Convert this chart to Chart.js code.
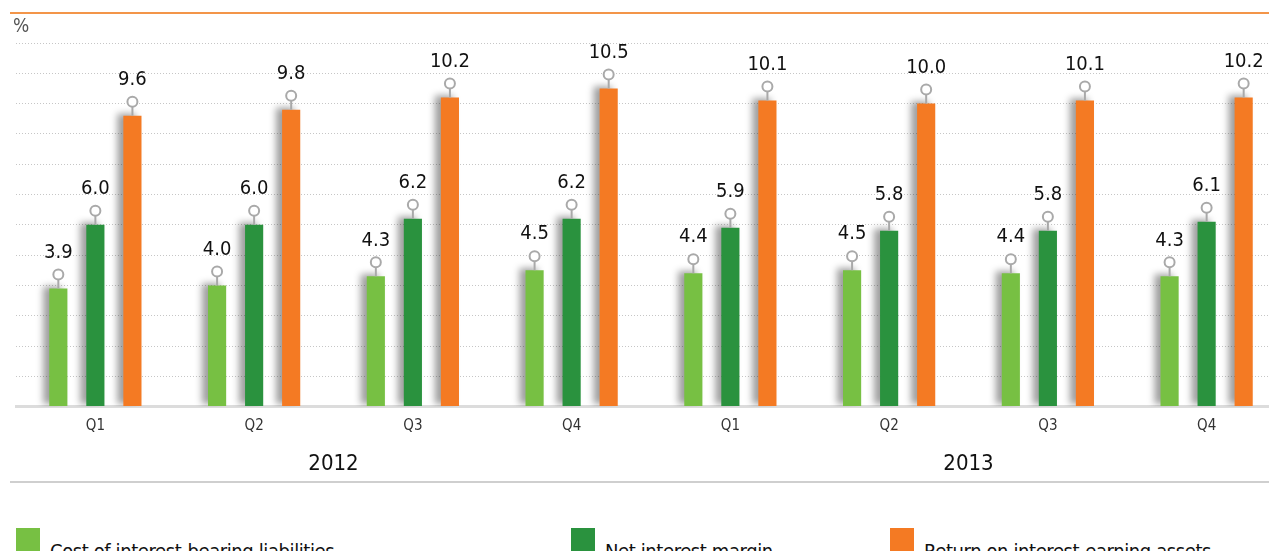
<!DOCTYPE html>
<html>
<head>
<meta charset="utf-8">
<script src="https://cdn.jsdelivr.net/npm/chart.js@4/dist/chart.umd.min.js"></script>
<style>
  html, body { margin:0; padding:0; background:#fff; overflow:hidden; }
  #wrap { position:relative; width:1269px; height:551px; overflow:hidden; }
  #c { position:absolute; left:0; top:0; }
  .leg { position:absolute; top:528px; display:flex; align-items:flex-start; white-space:nowrap;
         font-family:'DejaVu Sans Condensed','Liberation Sans Narrow',sans-serif; font-size:20px; letter-spacing:-0.4px; color:#111; }
  .leg i { display:block; width:24px; height:24px; margin-right:10px; }
  .leg span { display:block; margin-top:11px; line-height:24px; }
</style>
</head>
<body>
<div id="wrap">
  <canvas id="c" width="1290" height="495"></canvas>
  <div id="legend"></div>
</div>
<script>
(() => {
  // data
  const quarters = ['Q1', 'Q2', 'Q3', 'Q4', 'Q1', 'Q2', 'Q3', 'Q4'];
  const years = ['2012', '2013'];
  const costLiabilities = [3.9, 4.0, 4.3, 4.5, 4.4, 4.5, 4.4, 4.3];
  const netMargin = [6.0, 6.0, 6.2, 6.2, 5.9, 5.8, 5.8, 6.1];
  const returnAssets = [9.6, 9.8, 10.2, 10.5, 10.1, 10.0, 10.1, 10.2];
  const seriesNames = ['Cost of interest-bearing liabilities', 'Net interest margin', 'Return on interest-earning assets'];
  const colors = ['#77c043', '#2a923e', '#f47a23'];
  const legendX = [16, 571, 890];

  const FONT = "'DejaVu Sans Condensed','Liberation Sans Narrow',sans-serif";

  // shadow on the left side of every bar
  const barShadow = {
    id: 'barShadow',
    beforeDatasetsDraw(chart){
      const ctx = chart.ctx;
      ctx.save();
      ctx.shadowColor = 'rgba(0,0,0,0.38)';
      ctx.shadowBlur = 7;
      ctx.shadowOffsetX = -6;
      ctx.shadowOffsetY = -2;
    },
    afterDatasetsDraw(chart){ chart.ctx.restore(); }
  };

  // pin marker + value above each bar
  const valuePins = {
    id: 'valuePins',
    afterDatasetsDraw(chart){
      const ctx = chart.ctx;
      ctx.save();
      chart.data.datasets.forEach((ds, di) => {
        chart.getDatasetMeta(di).data.forEach((bar, i) => {
          const x = bar.x, y = bar.y;
          ctx.strokeStyle = '#a9a9a9';
          ctx.lineWidth = 2;
          ctx.beginPath(); ctx.moveTo(x, y); ctx.lineTo(x, y - 9); ctx.stroke();
          ctx.beginPath(); ctx.arc(x, y - 14, 5, 0, Math.PI * 2);
          ctx.fillStyle = '#fff'; ctx.fill(); ctx.stroke();
          ctx.fillStyle = '#111';
          ctx.font = '20px ' + FONT;
          ctx.textAlign = 'center';
          ctx.textBaseline = 'middle';
          ctx.fillText(ds.data[i].toFixed(1), x, y - 36);
        });
      });
      ctx.restore();
    }
  };

  // frame lines and the % unit
  const frame = {
    id: 'frame',
    beforeDraw(chart){
      const ctx = chart.ctx;
      ctx.save();
      ctx.strokeStyle = '#f39549';
      ctx.lineWidth = 2;
      ctx.beginPath(); ctx.moveTo(10, 13); ctx.lineTo(1269, 13); ctx.stroke();
      ctx.strokeStyle = '#cfcfcf';
      ctx.beginPath(); ctx.moveTo(10, 482); ctx.lineTo(1269, 482); ctx.stroke();
      ctx.fillStyle = '#555';
      ctx.font = '19px ' + FONT;
      ctx.textAlign = 'left';
      ctx.textBaseline = 'middle';
      ctx.fillText('%', 13, 27);
      ctx.restore();
    }
  };

  const datasets = [costLiabilities, netMargin, returnAssets].map((d, i) => ({
    label: seriesNames[i],
    data: d,
    backgroundColor: colors[i],
    barPercentage: 0.49,
    categoryPercentage: 0.70
  }));

  new Chart(document.getElementById('c'), {
    type: 'bar',
    data: { labels: quarters, datasets },
    plugins: [frame, barShadow, valuePins],
    options: {
      responsive: false,
      animation: false,
      layout: { padding: { left: 16, right: 4, top: 43, bottom: 14 } },
      plugins: { legend: { display: false }, tooltip: { enabled: false } },
      scales: {
        y: {
          min: 0, max: 12,
          ticks: { display: false, stepSize: 1 },
          grid: { color: '#c6c6c6', lineWidth: 1, drawTicks: false },
          border: { display: false, dash: [1, 2] }
        },
        x: {
          weight: 0,
          grid: { display: false, drawTicks: false },
          border: { display: true, color: '#dcdcdc', width: 3 },
          ticks: { color: '#333', font: { family: FONT, size: 15 }, padding: 11 }
        },
        x2: {
          type: 'category',
          labels: years,
          position: 'bottom',
          offset: true,
          weight: 1,
          grid: { display: false, drawTicks: false },
          border: { display: false },
          ticks: { color: '#111', font: { family: FONT, size: 22 }, padding: 4 }
        }
      }
    }
  });

  // legend
  const legendEl = document.getElementById('legend');
  seriesNames.forEach((name, i) => {
    const d = document.createElement('div');
    d.className = 'leg';
    d.style.left = legendX[i] + 'px';
    d.innerHTML = '<i style="background:' + colors[i] + '"></i><span>' + name + '</span>';
    legendEl.appendChild(d);
  });
})();
</script>
</body>
</html>
